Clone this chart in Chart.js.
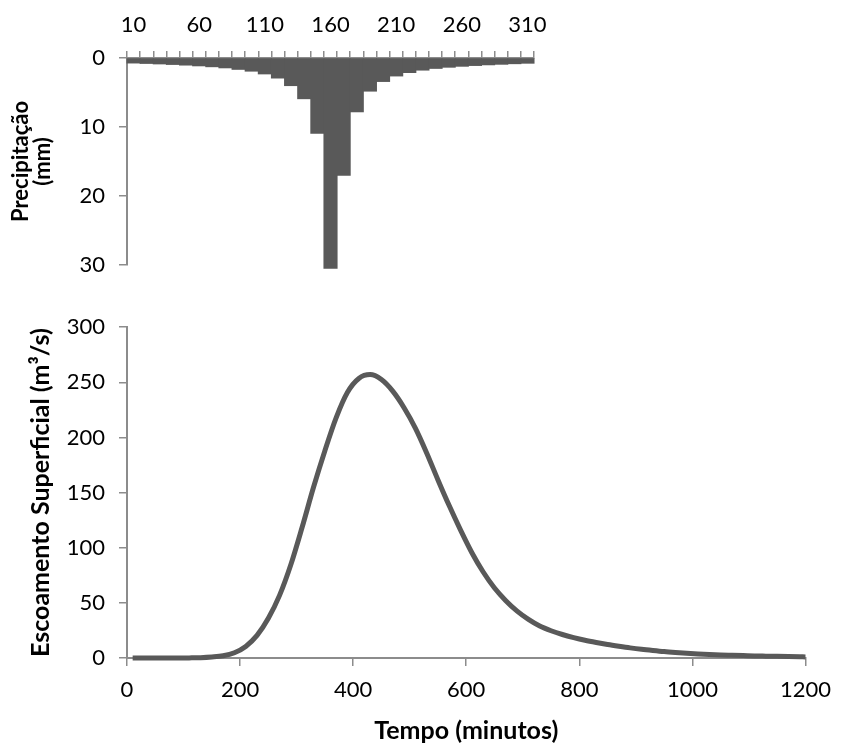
<!DOCTYPE html>
<html>
<head>
<meta charset="utf-8">
<script src="https://cdn.jsdelivr.net/npm/chart.js@4.4.1/dist/chart.umd.min.js"></script>
<style>
  html, body { margin: 0; padding: 0; background: #ffffff; }
  #wrap { position: relative; width: 842px; height: 746px; overflow: hidden; }
  #top { position: absolute; left: 0; top: 0; }
  #bottom { position: absolute; left: 0; top: 300px; }
</style>
</head>
<body>
<div id="wrap">
  <canvas id="top" width="560" height="292"></canvas>
  <canvas id="bottom" width="842" height="446"></canvas>
</div>
<script>
// ---------- DATA ----------
// Hyetograph: time (minutes) categories and precipitation (mm)
const rainTimes = [10,20,30,40,50,60,70,80,90,100,110,120,130,140,150,160,170,180,190,200,210,220,230,240,250,260,270,280,290,300,310];
const rainValues = [0.72,0.78,0.85,0.93,1.02,1.13,1.26,1.42,1.64,1.9,2.3,2.9,4.0,5.9,10.9,30.5,17.0,7.8,4.8,3.4,2.6,2.1,1.75,1.5,1.33,1.19,1.08,0.98,0.9,0.82,0.75];
const rainTickLabels = ['10','60','110','160','210','260','310'];

// Hydrograph: time (minutes) and surface runoff (m³/s)
const flowTimes = [10,30,50,70,90,110,130,150,170,190,210,230,250,270,290,310,330,350,370,390,410,430,450,470,490,510,530,550,570,590,610,630,650,670,690,710,730,750,770,790,810,830,850,870,890,910,930,950,970,990,1010,1030,1050,1070,1090,1110,1130,1150,1170,1190,1200];
const flowValues = [0,0,0,0,0,0.1,0.3,0.9,2.0,4.8,10.5,20.5,36,57,85,119,155,188,218,241,253.5,257,252.5,242,227,208.5,186,161.5,138,116,95.5,78,63.5,52,42.5,35,29,24.7,21.3,18.5,16.1,14.1,12.3,10.7,9.2,7.9,6.8,5.8,5.0,4.3,3.7,3.2,2.8,2.5,2.2,1.9,1.7,1.5,1.3,1.1,1.0];

// ---------- STYLE ----------
const FONT = 'Lato, "Open Sans", "Liberation Sans", sans-serif';
const AXIS = '#8c8c8c';
const INK = '#595959';
const TICK_SIZE = 22;
const TITLE_SIZE = 25;

// ---------- TOP: precipitation ----------
new Chart(document.getElementById('top'), {
  type: 'bar',
  data: {
    labels: rainTimes.map(String),
    datasets: [{
      data: rainValues,
      backgroundColor: INK,
      borderWidth: 0,
      barPercentage: 1,
      categoryPercentage: 1,
      inflateAmount: 0.5,
      clip: false
    }]
  },
  options: {
    responsive: false,
    animation: false,
    events: [],
    layout: { padding: { left: 0, right: 25, top: 0, bottom: 24 } },
    plugins: { legend: { display: false }, tooltip: { enabled: false } },
    scales: {
      x: {
        position: 'top',
        offset: true,
        grid: { display: true, offset: true, drawOnChartArea: false, drawTicks: true, tickLength: 7, color: AXIS, lineWidth: 1.5 },
        border: { display: true, color: AXIS, width: 2 },
        ticks: {
          autoSkip: false, maxRotation: 0, minRotation: 0, padding: 13,
          color: '#000', font: { family: FONT, size: TICK_SIZE },
          callback: function (v, i) {
            const lab = String(rainTimes[i]);
            return rainTickLabels.includes(lab) ? lab : '';
          }
        },
        afterFit: s => { s.height = 58; }
      },
      y: {
        min: 0, max: 30, reverse: true,
        grid: { display: true, drawOnChartArea: false, drawTicks: true, tickLength: 8, color: AXIS, lineWidth: 1.5 },
        border: { display: true, color: AXIS, width: 2 },
        ticks: { stepSize: 10, padding: 14, color: '#000', font: { family: FONT, size: TICK_SIZE }, callback: v => String(v) },
        title: {
          display: true, text: ['Precipitação', '(mm)'],
          color: '#000', font: { family: FONT, size: 22, weight: 'bold', lineHeight: 1.0 },
          padding: { top: 10, bottom: 0 }
        },
        afterFit: s => { s.width = 127; }
      }
    }
  }
});

// ---------- BOTTOM: runoff ----------
new Chart(document.getElementById('bottom'), {
  type: 'line',
  data: {
    datasets: [{
      data: flowTimes.map((t, i) => ({ x: t, y: flowValues[i] })),
      borderColor: INK,
      borderWidth: 5,
      pointRadius: 0,
      fill: false,
      cubicInterpolationMode: 'monotone',
      clip: false
    }]
  },
  options: {
    responsive: false,
    animation: false,
    events: [],
    layout: { padding: { left: 0, right: 31, top: 27, bottom: 0 } },
    plugins: { legend: { display: false }, tooltip: { enabled: false } },
    scales: {
      x: {
        type: 'linear', min: 0, max: 1200,
        grid: { display: true, drawOnChartArea: false, drawTicks: true, tickLength: 8, color: AXIS, lineWidth: 1.5 },
        border: { display: true, color: AXIS, width: 2 },
        ticks: { stepSize: 200, padding: 11, maxRotation: 0, color: '#000', font: { family: FONT, size: TICK_SIZE }, callback: v => String(v) },
        title: {
          display: true, text: 'Tempo (minutos)',
          color: '#000', font: { family: FONT, size: TITLE_SIZE, weight: 'bold' },
          padding: { top: 0, bottom: 0 }
        },
        afterFit: s => { s.height = 88; }
      },
      y: {
        min: 0, max: 300,
        grid: { display: true, drawOnChartArea: false, drawTicks: true, tickLength: 8, color: AXIS, lineWidth: 1.5 },
        border: { display: true, color: AXIS, width: 2 },
        ticks: { stepSize: 50, padding: 14, color: '#000', font: { family: FONT, size: TICK_SIZE }, callback: v => String(v) },
        title: {
          display: true, text: 'Escoamento Superficial (m³/s)',
          color: '#000', font: { family: FONT, size: TITLE_SIZE, weight: 'bold' },
          padding: { top: 26, bottom: 0 }
        },
        afterFit: s => { s.width = 127; }
      }
    }
  }
});
</script>
</body>
</html>
